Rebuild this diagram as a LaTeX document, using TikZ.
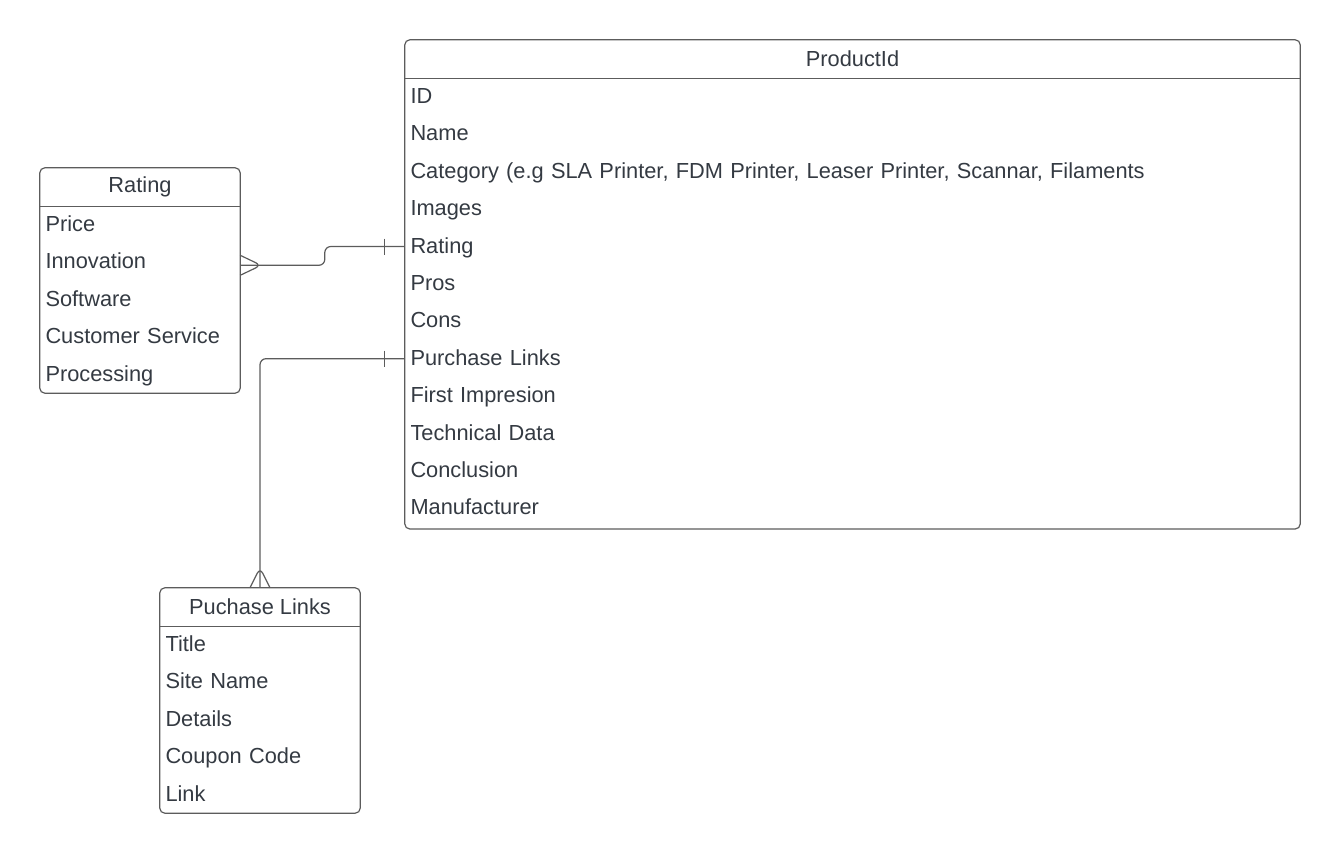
\documentclass[tikz,border=0pt]{standalone}
\usepackage{fontspec}
\setmainfont{Liberation Sans}
\usepackage{xcolor}
\usetikzlibrary{positioning}
\definecolor{ink}{HTML}{343A42}
\definecolor{rule}{HTML}{5C5C5C}
\newcommand{\erfont}{\fontsize{21.8pt}{26pt}\selectfont}
\tikzstyle{head} = [text centered, minimum height=38pt, inner sep=0pt, text=ink, font=\erfont]
\tikzstyle{field} = [align=left, inner xsep=5.5pt, inner ysep=7.5pt, text height=17.5pt, text depth=4.5pt, text=ink, font=\erfont]
\tikzstyle{pfield} = [field, text width=884pt]
\tikzstyle{sfield} = [field, text width=189pt]
\tikzstyle{frame} = [draw=rule, line width=1.2pt, rounded corners=5pt]
\tikzstyle{link} = [draw=rule, line width=1.2pt, rounded corners=6pt]
\begin{document}
\begin{tikzpicture}[x=1pt, y=-1pt]
    \useasboundingbox (0,0) rectangle (1340,853);
    % product table
    \node(product)[head, minimum width=895pt] at (852.5,59) {ProductId};
    \node(pId)[pfield, below=0pt of product]{ID};
    \node(pName)[pfield, below=0pt of pId]{Name};
    \node(pCat)[pfield, below=0pt of pName]{Category (e.g SLA Printer, FDM Printer, Leaser Printer, Scannar, Filaments};
    \node(pImages)[pfield, below=0pt of pCat]{Images};
    \node(pRating)[pfield, below=0pt of pImages]{Rating};
    \node(pPros)[pfield, below=0pt of pRating]{Pros};
    \node(pCons)[pfield, below=0pt of pPros]{Cons};
    \node(pPurchase)[pfield, below=0pt of pCons]{Purchase Links};
    \node(pFirst)[pfield, below=0pt of pPurchase]{First Impresion};
    \node(pTech)[pfield, below=0pt of pFirst]{Technical Data};
    \node(pConcl)[pfield, below=0pt of pTech]{Conclusion};
    \node(pMaker)[pfield, below=0pt of pConcl]{Manufacturer};
    \draw[frame] (product.north west) rectangle ([yshift=-2pt]pMaker.south east);
    \draw[frame] (product.south west) -- (product.south east);
    % rating table
    \node(rating)[head, minimum width=200pt] at (140,187) {Rating};
    \node(rPrice)[sfield, below=0pt of rating]{Price};
    \node(rInno)[sfield, below=0pt of rPrice]{Innovation};
    \node(rSoft)[sfield, below=0pt of rInno]{Software};
    \node(rService)[sfield, below=0pt of rSoft]{Customer Service};
    \node(rProc)[sfield, below=0pt of rService]{Processing};
    \draw[frame] (rating.north west) rectangle (rProc.south east);
    \draw[frame] (rating.south west) -- (rating.south east);
    % purchase links table
    \node(links)[head, minimum width=200pt] at (260,607) {Puchase Links};
    \node(lTitle)[sfield, below=0pt of links]{Title};
    \node(lSite)[sfield, below=0pt of lTitle]{Site Name};
    \node(lDetails)[sfield, below=0pt of lSite]{Details};
    \node(lCoupon)[sfield, below=0pt of lDetails]{Coupon Code};
    \node(lLink)[sfield, below=0pt of lCoupon]{Link};
    \draw[frame] (links.north west) rectangle (lLink.south east);
    \draw[frame] (links.south west) -- (links.south east);
    % relations
    \coordinate (rFoot) at ([yshift=-3pt]rInno.east);
    \draw[link] (pRating.west) -- ++(-80,0) |- (rFoot);
    \draw[link] ([xshift=-20pt]pRating.west) ++(0,-8) -- ++(0,16);
    \draw[link] (rFoot) ++(0,-10) -- ++(21,10) -- ++(-21,10);
    \draw[link] (pPurchase.west) -| (links.north);
    \draw[link] ([xshift=-20pt]pPurchase.west) ++(0,-8) -- ++(0,16);
    \draw[link] ([xshift=-10pt]links.north) -- ++(10,-20) -- ++(10,20);
\end{tikzpicture}
\end{document}
